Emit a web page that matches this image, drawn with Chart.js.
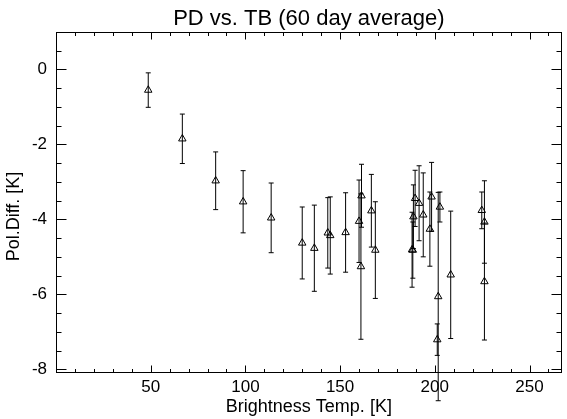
<!DOCTYPE html>
<html>
<head>
<meta charset="utf-8">
<script src="https://cdn.jsdelivr.net/npm/chart.js@4.4.1/dist/chart.umd.min.js"></script>
<style>
    body { margin: 0; background: #fff; }
    canvas { display: block; }
</style>
</head>
<body>
<canvas id="chart_pd" width="567" height="419"></canvas>
<script>
// brightness temp [K] (x), pol. difference [K] (y) and its error
var tb = [48.7, 66.7, 84.3, 98.8, 113.6, 130.0, 136.4, 143.5, 144.8, 152.9,
          160.0, 161.3, 161.0, 166.5, 168.6, 188.0, 188.4, 188.7, 189.6, 191.7,
          193.9, 197.4, 198.3, 202.7, 201.8, 201.3, 208.4, 224.8, 226.2, 226.2]
var pd = [-0.55, -1.85, -2.97, -3.53, -3.96, -4.63, -4.77, -4.36, -4.43, -4.35,
          -4.05, -3.37, -5.26, -3.77, -4.82, -4.81, -4.82, -3.93, -3.44, -3.57,
          -3.88, -4.26, -3.40, -3.67, -6.06, -7.21, -5.48, -3.76, -4.07, -5.66]
var pdErr = [0.46, 0.66, 0.77, 0.83, 0.93, 0.96, 1.15, 0.94, 1.03, 1.06,
             1.10, 0.84, 1.94, 0.97, 1.29, 1.00, 0.75, 0.85, 0.75, 1.00,
             1.12, 0.99, 0.92, 0.40, 2.78, 0.42, 1.70, 0.49, 1.10, 1.56]

var xTicks = [50, 100, 150, 200, 250]
var yTicks = [0, -2, -4, -6, -8]
var xRange = [0, 267]
var yRange = [-8.1, 1]
var yTitle = 'Pol.Diff. [K]'

var fontName = '"Liberation Sans", Arial, Helvetica, sans-serif'
var points = tb.map(function(t, i) { return {x: t, y: pd[i]} })

// vertical error bars with small caps (not clipped, like the original)
var errorBars = {
    id: 'errorBars',
    afterDatasetsDraw: function(chart) {
        var ctx = chart.ctx, xs = chart.scales.x, ys = chart.scales.y
        ctx.save()
        ctx.strokeStyle = '#000'
        ctx.lineWidth = 1
        tb.forEach(function(t, i) {
            var px = xs.getPixelForValue(t)
            var top = ys.getPixelForValue(pd[i] + pdErr[i])
            var bot = ys.getPixelForValue(pd[i] - pdErr[i])
            ctx.beginPath()
            ctx.moveTo(px, top); ctx.lineTo(px, bot)
            ctx.moveTo(px - 2.5, top); ctx.lineTo(px + 2.5, top)
            ctx.moveTo(px - 2.5, bot); ctx.lineTo(px + 2.5, bot)
            ctx.stroke()
        })
        ctx.restore()
    }
}

// box round the plot with inward major/minor ticks on all sides, plus the y title
var frame = {
    id: 'frame',
    afterDraw: function(chart) {
        var ctx = chart.ctx, a = chart.chartArea, xs = chart.scales.x, ys = chart.scales.y
        var l = Math.round(a.left) + 0.5, r = Math.round(a.right) - 0.5
        var t = Math.round(a.top) + 0.5, b = Math.round(a.bottom) - 0.5
        ctx.save()
        ctx.strokeStyle = '#000'
        ctx.lineWidth = 1
        ctx.strokeRect(l, t, r - l, b - t)
        ctx.beginPath()
        for (var v = 10; v < xRange[1]; v += 10) {
            var px = Math.round(xs.getPixelForValue(v)) + 0.5
            var len = v % 50 === 0 ? 7 : 3.5
            ctx.moveTo(px, b); ctx.lineTo(px, b - len)
            ctx.moveTo(px, t); ctx.lineTo(px, t + len)
        }
        for (var h = -16; h <= 1; h++) {
            var py = Math.round(ys.getPixelForValue(h / 2)) + 0.5
            var ylen = h % 4 === 0 ? 10 : 5
            ctx.moveTo(l, py); ctx.lineTo(l + ylen, py)
            ctx.moveTo(r, py); ctx.lineTo(r - ylen, py)
        }
        ctx.stroke()

        ctx.translate(14, (a.top + a.bottom) / 2 + 14)
        ctx.rotate(-Math.PI / 2)
        ctx.fillStyle = '#000'
        ctx.font = '18px ' + fontName
        ctx.textAlign = 'center'
        ctx.textBaseline = 'middle'
        ctx.fillText(yTitle, 0, 0)
        ctx.restore()
    }
}

var ctx = document.getElementById('chart_pd')
var chartPd = new Chart(ctx, {
    type: 'scatter',
    data: {
        datasets: [{
            data: points,
            pointStyle: 'triangle',
            pointRadius: 4.3,
            pointHoverRadius: 4.3,
            borderWidth: 1,
            borderColor: '#000',
            backgroundColor: 'rgba(0,0,0,0)'
        }]
    },
    options: {
        responsive: false,
        animation: false,
        devicePixelRatio: 1,
        layout: { padding: { left: 0, right: 3, top: 0, bottom: 0 } },
        plugins: {
            legend: { display: false },
            tooltip: { enabled: false }
        },
        scales: {
            x: {
                type: 'linear',
                position: 'bottom',
                min: xRange[0],
                max: xRange[1],
                grid: { display: false, drawTicks: false },
                border: { display: false },
                afterBuildTicks: function(scale) {
                    scale.ticks = xTicks.map(function(v) { return {value: v} })
                },
                afterFit: function(scale) { scale.height = 46 },
                ticks: {
                    autoSkip: false,
                    maxRotation: 0,
                    padding: 4,
                    color: '#000',
                    font: { family: fontName, size: 17 }
                },
                title: {
                    display: true,
                    text: 'Brightness Temp. [K]',
                    color: '#000',
                    font: { family: fontName, size: 18 },
                    padding: { top: 0, bottom: 1 }
                }
            },
            xTop: {
                type: 'linear',
                position: 'top',
                min: xRange[0],
                max: xRange[1],
                grid: { display: false, drawTicks: false },
                border: { display: false },
                ticks: { display: false },
                afterFit: function(scale) { scale.height = 32 },
                title: {
                    display: true,
                    text: 'PD vs. TB (60 day average)',
                    color: '#000',
                    font: { family: fontName, size: 22 },
                    padding: { top: 6, bottom: 0 }
                }
            },
            y: {
                type: 'linear',
                min: yRange[0],
                max: yRange[1],
                grid: { display: false, drawTicks: false },
                border: { display: false },
                afterBuildTicks: function(scale) {
                    scale.ticks = yTicks.map(function(v) { return {value: v} })
                },
                afterFit: function(scale) { scale.width = 56 },
                ticks: {
                    padding: 9,
                    color: '#000',
                    font: { family: fontName, size: 17 }
                }
            }
        }
    },
    plugins: [errorBars, frame]
});
</script>
</body>
</html>
